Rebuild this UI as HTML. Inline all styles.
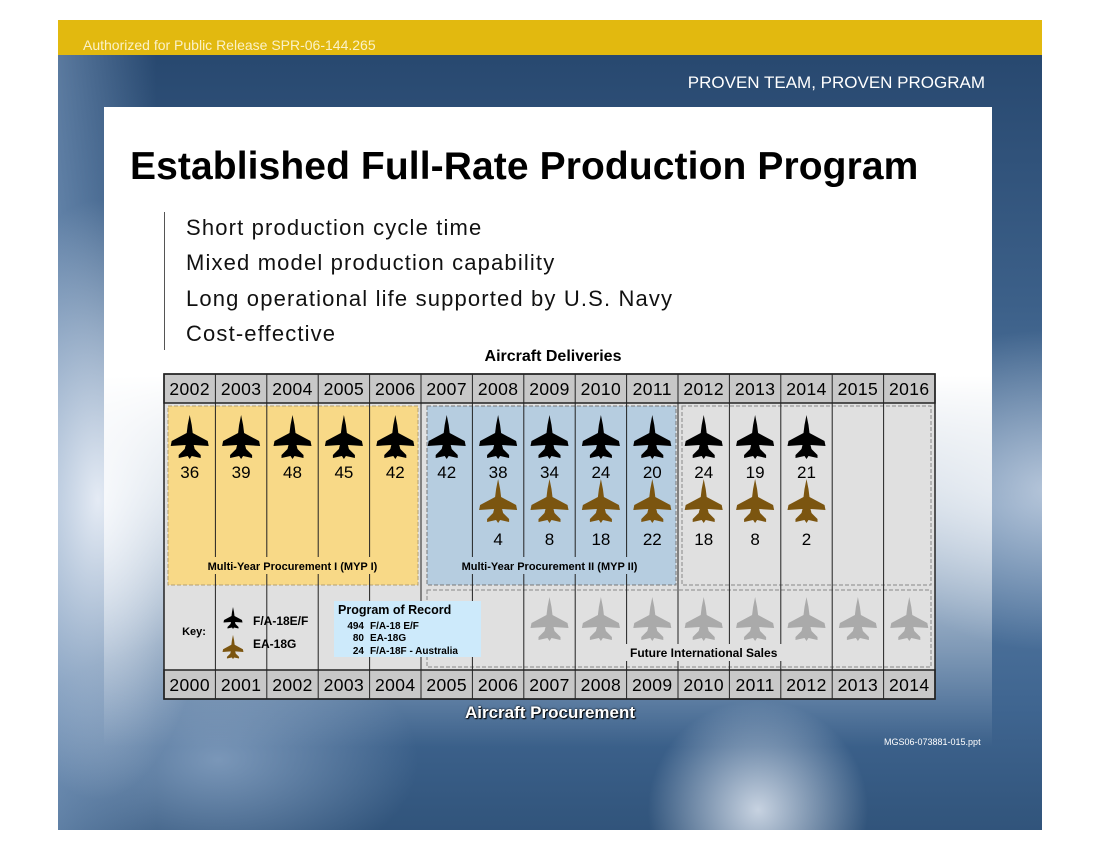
<!DOCTYPE html>
<html><head><meta charset="utf-8"><style>
body{margin:0;width:1100px;height:850px;background:#fff;position:relative;overflow:hidden;font-family:"Liberation Sans",Arial,sans-serif}
.abs{position:absolute}
</style></head><body>
<div class="abs" style="left:58px;top:20px;width:984px;height:810px;background:
radial-gradient(ellipse 120px 300px at 40px 480px,rgba(235,240,248,0.95),rgba(235,240,248,0) 100%),
radial-gradient(ellipse 200px 160px at 990px 470px,rgba(220,228,240,0.7),rgba(220,228,240,0) 100%),
radial-gradient(ellipse 110px 110px at 700px 790px,rgba(225,232,242,0.85),rgba(225,232,242,0) 100%),
radial-gradient(ellipse 200px 120px at 160px 740px,rgba(150,175,205,0.7),rgba(150,175,205,0) 100%),
linear-gradient(90deg,rgba(140,170,205,0.5) 0%,rgba(140,170,205,0) 10%),
linear-gradient(180deg,#25456c 0%,#3c6089 35%,#5a7ea6 60%,#3f6590 85%,#31547b 100%);"></div>
<div class="abs" style="left:58px;top:20px;width:984px;height:35px;background:#e2b90f"></div>
<div class="abs" style="left:83px;top:36px;font-size:14px;color:#fbf2c8;line-height:18px">Authorized for Public Release SPR-06-144.265</div>
<div class="abs" style="right:115px;top:73px;font-size:17px;color:#fff;line-height:20px">PROVEN TEAM, PROVEN PROGRAM</div>
<div class="abs" style="left:104px;top:107px;width:888px;height:640px;background:linear-gradient(180deg,#fff 0%,#fff 42%,rgba(255,255,255,0.75) 60%,rgba(255,255,255,0.3) 85%,rgba(255,255,255,0) 100%)"></div>
<div class="abs" style="left:130px;top:143px;font-size:39px;font-weight:bold;color:#000;line-height:48px;letter-spacing:0.1px">Established Full-Rate Production Program</div>
<div class="abs" style="left:164px;top:212px;width:1px;height:138px;background:#555"></div>
<div class="abs" style="left:186px;top:210px;font-size:22px;line-height:35.3px;color:#111;letter-spacing:1.15px">
<div>Short production cycle time</div>
<div>Mixed model production capability</div>
<div>Long operational life supported by U.S. Navy</div>
<div>Cost-effective</div>
</div>
<div class="abs" style="left:453px;top:348px;width:200px;text-align:center;font-size:16px;font-weight:bold;line-height:18px">Aircraft Deliveries</div>
<svg class="abs" style="left:0;top:0" width="1100" height="850" id="chart">
<defs><path id="jet" d="M20 0 L22 10 L23 18 L38 26 L39 31 L24 30 L25 34 L31 40 L31 43 L22 41 L20 44 L18 41 L9 43 L9 40 L15 34 L16 30 L1 31 L2 26 L17 18 L18 10 Z"/></defs>
</svg>
<div class="abs" style="left:400px;top:703px;width:300px;text-align:center;font-size:17px;font-weight:bold;color:#fff;line-height:20px;text-shadow:0 0 2px #000,1px 1px 1px #000">Aircraft Procurement</div>
<div class="abs" style="left:884px;top:737px;font-size:9px;color:#fff;line-height:11px">MGS06-073881-015.ppt</div>
<script>
const deliveryYears=[2002,2003,2004,2005,2006,2007,2008,2009,2010,2011,2012,2013,2014,2015,2016];
const procurementYears=[2000,2001,2002,2003,2004,2005,2006,2007,2008,2009,2010,2011,2012,2013,2014];
const efValues=[36,39,48,45,42,42,38,34,24,20,24,19,21,null,null];
const gValues=[null,null,null,null,null,null,4,8,18,22,18,8,2,null,null];
const futureSales=[false,false,false,false,false,false,false,true,true,true,true,true,true,true,true];
const NS='http://www.w3.org/2000/svg';
const svg=document.getElementById('chart');
const L=164,R=935,cw=(R-L)/deliveryYears.length;
const colX=i=>L+i*cw;
const colC=i=>L+(i+0.5)*cw;
function mk(t,a,p){const e=document.createElementNS(NS,t);for(const k in a)e.setAttribute(k,a[k]);(p||svg).appendChild(e);return e;}
function txt(x,y,s,size,extra){const t=mk('text',Object.assign({x:x,y:y,'font-size':size,'font-family':'Liberation Sans, Arial, sans-serif','text-anchor':'middle'},extra||{}));t.textContent=s;return t;}
let r=mk('rect',{x:L,y:403,width:R-L,height:267,fill:'#e0e0e0'});


r=mk('rect',{x:colX(0)+4,y:406,width:cw*5-7,height:179,fill:'#f8d987',stroke:'#b5a070','stroke-dasharray':'4 2'});


r=mk('rect',{x:colX(5)+6,y:406,width:cw*5-8,height:179,fill:'#b6cde0',stroke:'#777','stroke-dasharray':'4 2'});


r=mk('rect',{x:colX(10)+4,y:406,width:cw*5-8,height:179,fill:'none',stroke:'#888','stroke-dasharray':'4 2'});


r=mk('rect',{x:colX(5)+6,y:590,width:R-colX(5)-10,height:77,fill:'none',stroke:'#888','stroke-dasharray':'4 2'});


for(let i=1;i<deliveryYears.length;i++){
  const l=mk('line',{x1:colX(i),x2:colX(i),y1:403,y2:670,stroke:'#222','stroke-width':1});
  
  
}
[[374,deliveryYears,'delivery-year-header'],[670,procurementYears,'procurement-year-header']].forEach(([y,arr,nm])=>{
  const b=mk('rect',{x:L,y:y,width:R-L,height:29,fill:'#c8c8c8',stroke:'#222','stroke-width':1.5});
  
  
  arr.forEach((yr,i)=>{
    if(i>0){const l=mk('line',{x1:colX(i),x2:colX(i),y1:y,y2:y+29,stroke:'#222'});}
    const t=txt(colC(i),y+21,yr,17.5,{'letter-spacing':'0.4'});
    
    
  });
});
mk('rect',{x:L,y:374,width:R-L,height:325,fill:'none',stroke:'#222','stroke-width':1.5});
function lab(x,y,w,bg,s,nm,size){mk('rect',{x:x-w/2,y:y-13,width:w,height:17,fill:bg});const t=txt(x,y,s,size||11,{'font-weight':'bold'});}
lab((colX(0)+colX(5))/2,570,190,'#f8d987','Multi-Year Procurement I  (MYP I)','myp1-label');
lab((colX(5)+colX(10))/2,570,200,'#b6cde0','Multi-Year Procurement II  (MYP II)','myp2-label');
lab((colX(8)+colX(13))/2,657,180,'#e0e0e0','Future International Sales','future-sales-label',12);
function jet(cx,cy,fill,sc){const u=mk('use',{href:'#jet',transform:`translate(${cx-20*sc},${cy-22*sc}) scale(${sc})`,fill:fill});return u;}
deliveryYears.forEach((yr,i)=>{
  if(efValues[i]!=null){
    const j=jet(colC(i),437,'#000',1);
    
    
    const t=txt(colC(i),478,efValues[i],17);
    
    
  }
  if(gValues[i]!=null){
    const j=jet(colC(i),501,'#7b5510',1);
    
    
    const t=txt(colC(i),545,gValues[i],17);
    
    
  }
  if(futureSales[i]){
    const j=jet(colC(i),619,'#aaaaaa',1);
    
    
  }
});
let t=txt(194,635,'Key:',11,{'font-weight':'bold'});
let j=jet(233,618,'#000',0.5);
j=jet(233,647,'#7b5510',0.55);
t=txt(253,625,'F/A-18E/F',12,{'text-anchor':'start','font-weight':'bold'});
t=txt(253,648,'EA-18G',12,{'text-anchor':'start','font-weight':'bold'});
const pr=mk('rect',{x:334,y:601,width:147,height:56,fill:'#cdeafb'});


t=txt(338,614,'Program of Record',12.5,{'text-anchor':'start','font-weight':'bold'});
[['494','F/A-18 E/F',629],['80','EA-18G',641],['24','F/A-18F - Australia',654]].forEach(([n,s,y])=>{
  const a=txt(364,y,n,10,{'text-anchor':'end','font-weight':'bold'});
  const b=txt(370,y,s,10,{'text-anchor':'start','font-weight':'bold'});
});
</script>
</body></html>
